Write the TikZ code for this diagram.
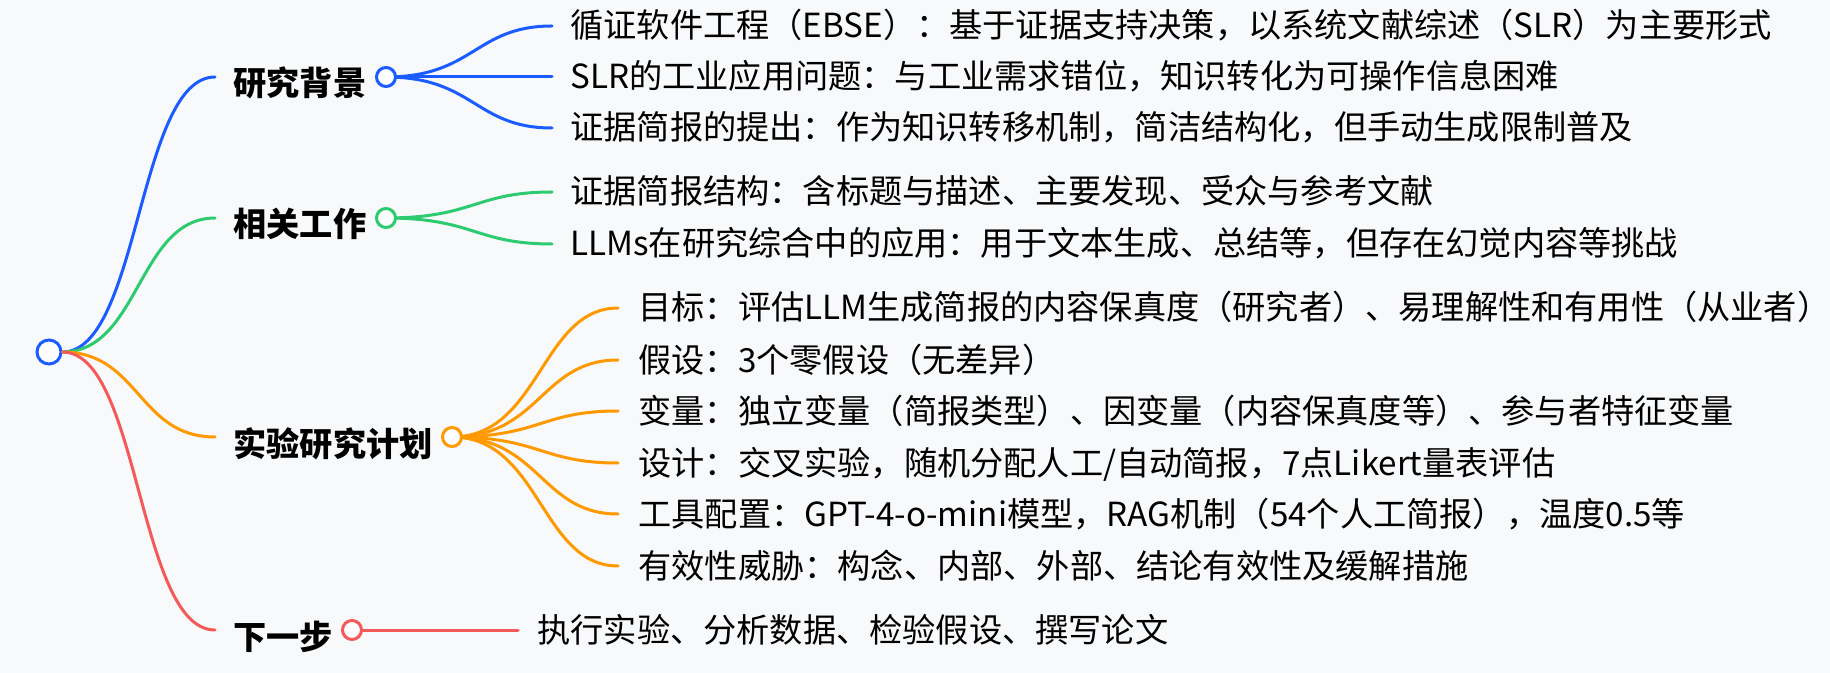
\documentclass[tikz,border=0pt]{standalone}
\usepackage{fontspec}
\setmainfont{Noto Sans CJK SC}
\usepackage{tikz}
\definecolor{Paper}{HTML}{F8F9FB}
\definecolor{Blue}{HTML}{1A5CFF}
\definecolor{Green}{HTML}{2DCB70}
\definecolor{Orange}{HTML}{FF9900}
\definecolor{Red}{HTML}{F55A5A}
\tikzset{
  dot/.style={circle,draw,line width=1.5pt,fill=white,minimum size=9.5pt,inner sep=0pt},
  rootdot/.style={dot,minimum size=12pt},
  head/.style={anchor=base west,inner sep=0pt,font=\fontsize{16.6pt}{19pt}\selectfont\bfseries},
  leaf/.style={anchor=base west,inner sep=0pt,font=\fontsize{16.6pt}{19pt}\selectfont},
  link/.style={line width=1.5pt,line cap=round}
}

\begin{document}
\begin{tikzpicture}[x=0.5pt,y=-0.5pt]
% Paper
\fill [Paper] (0,0) rectangle (1830,673);
\useasboundingbox (0,0) rectangle (1830,673);
% Root
\node [rootdot,draw=Blue] (root) at (49,352) {};
\coordinate (a0) at (215,77);
\coordinate (b0) at (215,218);
\coordinate (c0) at (215,437);
\coordinate (d0) at (215,630);
\draw [link,Blue] (root.east) .. controls +(77,0) and +(-77,0) .. (a0);
\draw [link,Green] (root.east) .. controls +(77,0) and +(-77,0) .. (b0);
\draw [link,Orange] (root.east) .. controls +(77,0) and +(-77,0) .. (c0);
\draw [link,Red] (root.east) .. controls +(77,0) and +(-77,0) .. (d0);
% Headings
\node [head] (ha) at (233,96) {研究背景};
\node [head] (hb) at (233,237) {相关工作};
\node [head] (hc) at (233,456) {实验研究计划};
\node [head] (hd) at (233,649) {下一步};
% Background
\coordinate (a1) at (552,26);
\coordinate (a2) at (552,77);
\coordinate (a3) at (552,128);
\draw [link,Blue] (386,77) .. controls +(88,0) and +(-77,0) .. (a1);
\draw [link,Blue] (386,77) -- (a2);
\draw [link,Blue] (386,77) .. controls +(88,0) and +(-77,0) .. (a3);
\node [dot,draw=Blue] (ca) at (386,77) {};
\node [leaf] (ta1) at (570,38) {循证软件工程（EBSE）：基于证据支持决策，以系统文献综述（SLR）为主要形式};
\node [leaf] (ta2) at (570,89) {SLR的工业应用问题：与工业需求错位，知识转化为可操作信息困难};
\node [leaf] (ta3) at (570,140) {证据简报的提出：作为知识转移机制，简洁结构化，但手动生成限制普及};
% Related work
\coordinate (b1) at (552,192);
\coordinate (b2) at (552,244);
\draw [link,Green] (386,218) .. controls +(88,0) and +(-77,0) .. (b1);
\draw [link,Green] (386,218) .. controls +(88,0) and +(-77,0) .. (b2);
\node [dot,draw=Green] (cb) at (386,218) {};
\node [leaf] (tb1) at (570,204) {证据简报结构：含标题与描述、主要发现、受众与参考文献};
\node [leaf] (tb2) at (570,256) {LLMs在研究综合中的应用：用于文本生成、总结等，但存在幻觉内容等挑战};
% Experiment plan
\coordinate (c1) at (618,308);
\coordinate (c2) at (618,360);
\coordinate (c3) at (618,411);
\coordinate (c4) at (618,463);
\coordinate (c5) at (618,514);
\coordinate (c6) at (618,566);
\draw [link,Orange] (452,437) .. controls +(88,0) and +(-77,0) .. (c1);
\draw [link,Orange] (452,437) .. controls +(88,0) and +(-77,0) .. (c2);
\draw [link,Orange] (452,437) .. controls +(88,0) and +(-77,0) .. (c3);
\draw [link,Orange] (452,437) .. controls +(88,0) and +(-77,0) .. (c4);
\draw [link,Orange] (452,437) .. controls +(88,0) and +(-77,0) .. (c5);
\draw [link,Orange] (452,437) .. controls +(88,0) and +(-77,0) .. (c6);
\node [dot,draw=Orange] (cc) at (452,437) {};
\node [leaf] (tc1) at (638,320) {目标：评估LLM生成简报的内容保真度（研究者）、易理解性和有用性（从业者）};
\node [leaf] (tc2) at (638,372) {假设：3个零假设（无差异）};
\node [leaf] (tc3) at (638,423) {变量：独立变量（简报类型）、因变量（内容保真度等）、参与者特征变量};
\node [leaf] (tc4) at (638,475) {设计：交叉实验，随机分配人工/自动简报，7点Likert量表评估};
\node [leaf] (tc5) at (638,526) {工具配置：GPT-4-o-mini模型，RAG机制（54个人工简报），温度0.5等};
\node [leaf] (tc6) at (638,578) {有效性威胁：构念、内部、外部、结论有效性及缓解措施};
% Next step
\coordinate (d1) at (518,630);
\node [dot,draw=Red] (cd) at (352,630) {};
\draw [link,Red] (cd.east) -- (d1);
\node [leaf] (td1) at (537,642) {执行实验、分析数据、检验假设、撰写论文};
\end{tikzpicture}
\end{document}
